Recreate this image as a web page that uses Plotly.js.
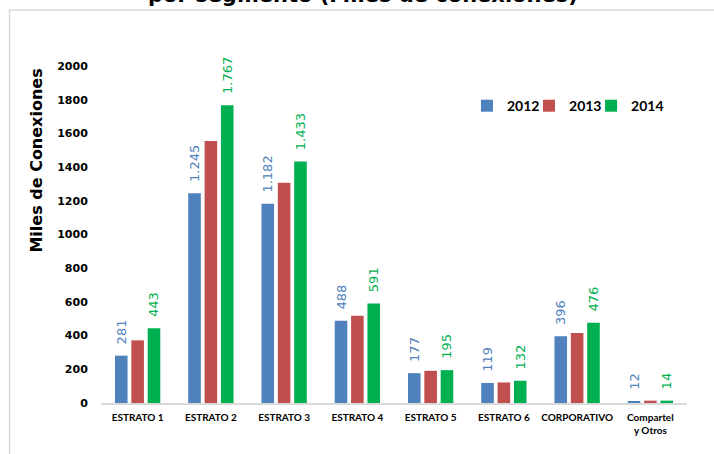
<!DOCTYPE html>
<html>
<head>
<meta charset="utf-8">
<script src="https://cdn.plot.ly/plotly-3.0.1.min.js"></script>
<style>html,body{margin:0;padding:0;background:#fff;}#chart{width:714px;height:454px;}</style>
</head>
<body>
<div id="chart"></div>
<script>
const categories = ['ESTRATO 1','ESTRATO 2','ESTRATO 3','ESTRATO 4','ESTRATO 5','ESTRATO 6','CORPORATIVO','Compartel<br>y Otros'];
const years = ['2012','2013','2014'];
const v2012 = [281,1245,1182,488,177,119,396,12];
const v2013 = [372,1555,1307,518,191,122,416,14];
const v2014 = [443,1767,1433,591,195,132,476,14];
const yTicks = [0,200,400,600,800,1000,1200,1400,1600,1800,2000];
const titleText = 'por segmento (Miles de conexiones)';
const yTitle = 'Miles de Conexiones';

const colors = ['#4F81BD','#C0504D','#00B050'];
const labelColors = ['#4F81BD', null, '#00B050'];
const series = [v2012, v2013, v2014];
const legendIds = ['legend','legend2','legend3'];
const legendX = [0.6245, 0.7304, 0.8363];

const traces = series.map((vals, i) => {
  const t = {
    type: 'bar', name: years[i], x: categories, y: vals,
    legend: legendIds[i],
    marker: {color: colors[i], line: {width: 0}},
    cliponaxis: false, hoverinfo: 'none'
  };
  if (labelColors[i]) {
    t.texttemplate = '\u00a0\u00a0%{y:,}';
    t.textposition = 'outside';
    t.textangle = -90;
    t.constraintext = 'none';
    t.textfont = {family: 'DejaVu Sans', size: 13, color: labelColors[i]};
  }
  return t;
});

const layout = {
  width: 714, height: 454,
  margin: {l: 101.4, r: 27, t: 66, b: 51, pad: 0},
  paper_bgcolor: '#fff', plot_bgcolor: '#fff',
  separators: ',.',
  barmode: 'group', bargap: 0.33, bargroupgap: 0.23,
  showlegend: true,
  xaxis: {type: 'category', showline: true, linecolor: '#D9D9D9', linewidth: 1.5,
    ticks: 'outside', ticklen: 4, tickcolor: 'rgba(0,0,0,0)', showgrid: false, zeroline: false,
    tickfont: {family: 'Lato', size: 10, weight: 'bold', color: '#000'}},
  yaxis: {range: [0, 2000], tickvals: yTicks, showline: false, showgrid: false, zeroline: false,
    ticks: 'outside', ticklen: 10, tickcolor: 'rgba(0,0,0,0)',
    tickfont: {family: 'DejaVu Sans', size: 11, weight: 'bold', color: '#000'}},
  annotations: [
    {text: titleText, xref: 'paper', yref: 'paper', x: 0.447, y: 1.2107,
      xanchor: 'center', yanchor: 'middle', showarrow: false,
      font: {family: 'DejaVu Sans', size: 21, weight: 'bold', color: '#000'}},
    {text: yTitle, xref: 'paper', yref: 'paper', x: -0.1117, y: 0.718, textangle: -90,
      xanchor: 'center', yanchor: 'middle', showarrow: false,
      font: {family: 'DejaVu Sans', size: 16, weight: 'bold', color: '#000'}}
  ],
  shapes: [{type: 'rect', xref: 'paper', yref: 'paper', x0: -0.156, x1: 1.3, y0: -0.5, y1: 1.1662,
    line: {color: '#D9D9D9', width: 1.5}, fillcolor: 'rgba(0,0,0,0)', layer: 'below'}]
};
legendIds.forEach((id, i) => {
  layout[id] = {orientation: 'h', x: legendX[i], xanchor: 'left', y: 0.881, yanchor: 'middle',
    bgcolor: 'rgba(0,0,0,0)',
    font: {family: 'Lato', size: 14, weight: 'bold', color: '#000'}};
});

Plotly.newPlot('chart', traces, layout, {displayModeBar: false, staticPlot: true});
</script>
</body>
</html>
